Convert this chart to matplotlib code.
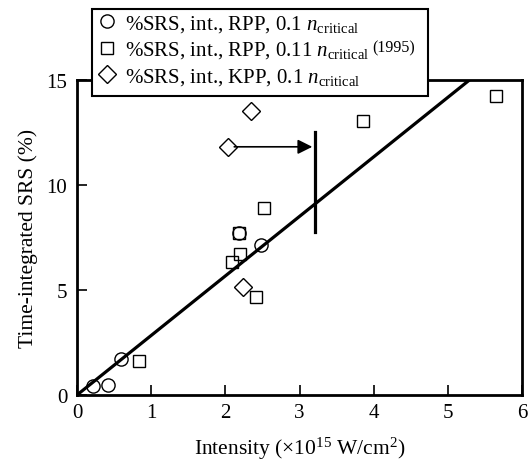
import matplotlib
matplotlib.use("Agg")
import matplotlib.pyplot as plt
from matplotlib.lines import Line2D
from matplotlib.patches import Rectangle

plt.rcParams['font.family'] = ['Liberation Serif', 'DejaVu Serif']
plt.rcParams['mathtext.fontset'] = 'custom'
plt.rcParams['mathtext.rm'] = 'Liberation Serif'
plt.rcParams['mathtext.it'] = 'Liberation Serif:italic'
plt.rcParams['font.size'] = 15

# data
rpp01_x = [0.22, 0.42, 0.59, 2.19, 2.48]
rpp01_y = [0.43, 0.48, 1.73, 7.70, 7.14]

rpp011_x = [0.83, 2.09, 2.20, 2.19, 2.41, 2.52, 3.86, 5.65]
rpp011_y = [1.60, 6.30, 6.68, 7.70, 4.65, 8.90, 13.05, 14.20]

kpp_x = [2.24, 2.04, 2.35]
kpp_y = [5.12, 11.80, 13.50]

fit_x = [0.0, 5.3]
fit_y = [0.0, 15.0]

arrow_from = (2.12, 11.8)
arrow_to = (3.21, 11.8)
bar_x = 3.21
bar_y = [7.75, 12.5]

W, H = 530, 464
fig = plt.figure(figsize=(W / 100, H / 100), dpi=100)
ax = fig.add_axes([77 / W, 1 - 396 / H, (522 - 77) / W, (396 - 80.5) / H])

ax.plot(fit_x, fit_y, color='black', lw=2.3, zorder=2)
ax.plot(rpp01_x, rpp01_y, 'o', ms=9.5, mfc='none', mec='black', mew=1.0, zorder=3)
ax.plot(rpp011_x, rpp011_y, 's', ms=8.5, mfc='none', mec='black', mew=1.0, zorder=3)
ax.plot(kpp_x, kpp_y, 'D', ms=9.5, mfc='none', mec='black', mew=1.0, zorder=3)

ax.annotate('', xy=arrow_to, xytext=arrow_from,
            arrowprops=dict(arrowstyle='-|>', color='black', lw=1.2,
                            mutation_scale=22, shrinkA=0, shrinkB=2))
ax.plot([bar_x, bar_x], bar_y, color='black', lw=2.3)

ax.set_xlim(0, 6)
ax.set_ylim(0, 15)
ax.set_xticks([0, 1, 2, 3, 4, 5, 6])
ax.set_yticks([0, 5, 10, 15])
ax.tick_params(direction='in', length=7, width=1.2, labelsize=15)
ax.tick_params(axis='x', pad=6)
ax.tick_params(axis='y', pad=7)
for s in ax.spines.values():
    s.set_linewidth(2)

ax.set_xlabel(r'Intensity ($\times$10$^{15}$ W/cm$^{2}$)', fontsize=15.5, labelpad=9)
ax.set_ylabel('Time-integrated SRS (%)', fontsize=15.5, labelpad=6)

# legend frame drawn as a figure patch so it covers the top spine
frame = Rectangle((92 / W, 1 - 97 / H), (428 - 92) / W, (97 - 9.5) / H,
                  transform=fig.transFigure, facecolor='white',
                  edgecolor='black', lw=1.5, zorder=4)
fig.add_artist(frame)

handles = [
    Line2D([], [], marker='o', ls='none', ms=9.5, mfc='none', mec='black', mew=1.0),
    Line2D([], [], marker='s', ls='none', ms=8.5, mfc='none', mec='black', mew=1.0),
    Line2D([], [], marker='D', ls='none', ms=9.5, mfc='none', mec='black', mew=1.0),
]
labels = [
    r'%SRS, int., RPP, 0.1 $n_{\rm critical}$',
    r'%SRS, int., RPP, 0.11 $n_{\rm critical}$',
    r'%SRS, int., KPP, 0.1 $n_{\rm critical}$',
]
leg = fig.legend(handles, labels, loc='upper left',
                 bbox_to_anchor=(97 / W, 1 - 14 / H),
                 frameon=False, borderaxespad=0, borderpad=0,
                 handletextpad=0.35, handlelength=1.0, labelspacing=0.27,
                 fontsize=15)
leg.set_zorder(5)

# small "(1995)" after the second legend entry
fig.canvas.draw()
bb = leg.get_texts()[1].get_window_extent()
fig.text(bb.x1 + 3, bb.y0 + 5, '(1995)', fontsize=11.5,
         transform=None, ha='left', va='bottom', zorder=10)

fig.savefig('out.png', dpi=100)
